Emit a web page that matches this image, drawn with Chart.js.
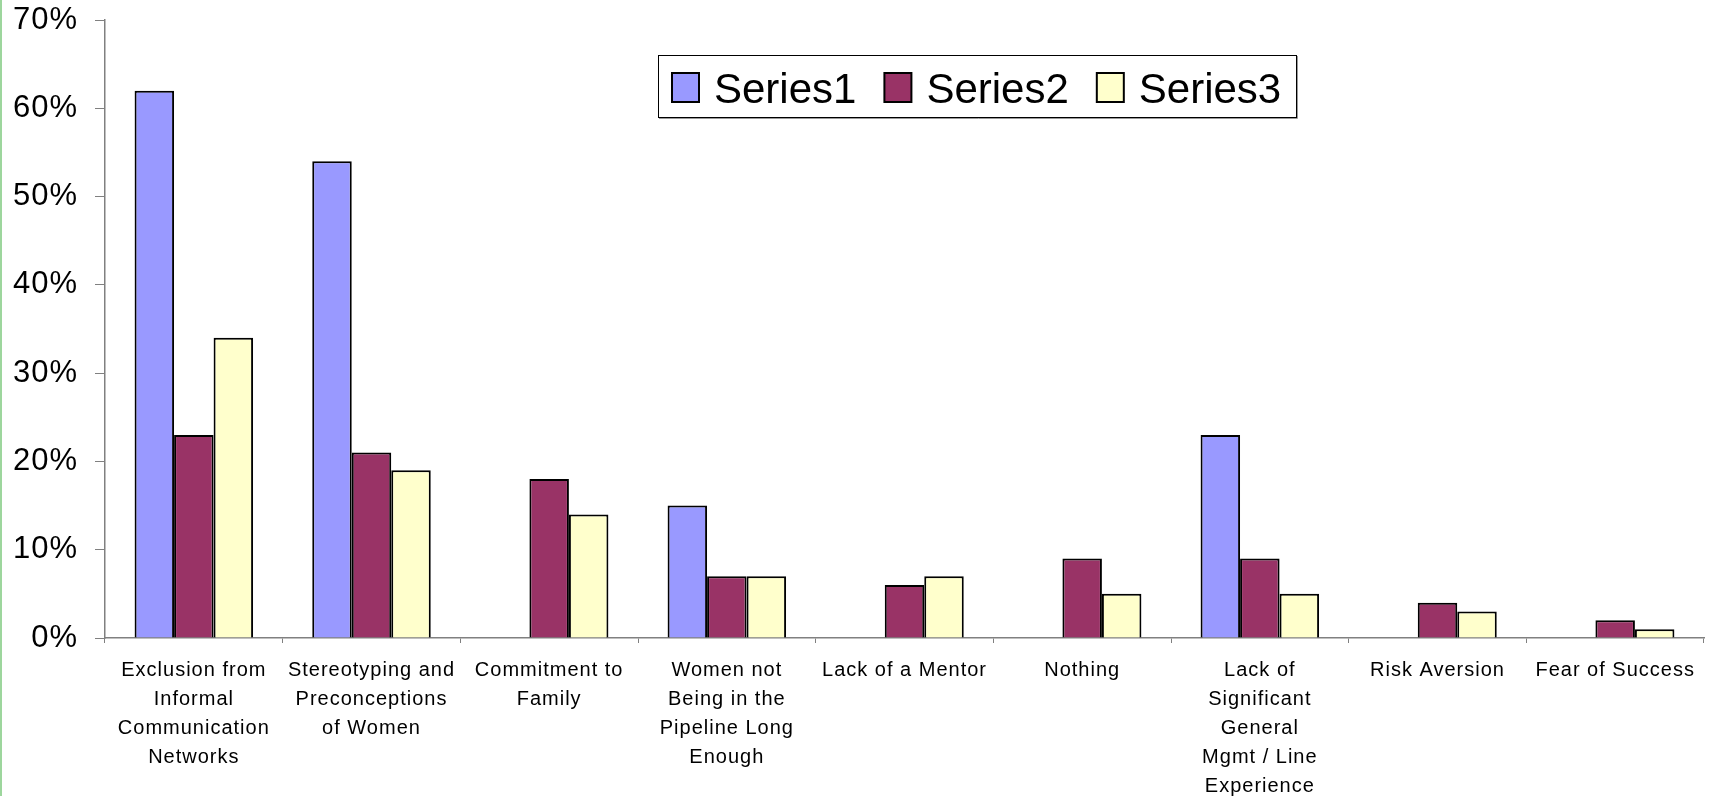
<!DOCTYPE html>
<html>
<head>
<meta charset="utf-8">
<script src="https://cdn.jsdelivr.net/npm/chart.js@4.4.0/dist/chart.umd.min.js"></script>
<style>
  html, body { margin: 0; padding: 0; background: #fff; overflow: hidden; }
  #wrap { position: relative; width: 1713px; height: 796px; }
  #edge { position: absolute; left: 0; top: 0; width: 2px; height: 796px; background: #9dd69d; }
</style>
</head>
<body>
<div id="wrap">
  <canvas id="chart" width="1713" height="796"></canvas>
  <div id="edge"></div>
</div>
<script>
// category labels, already split in lines like the original
const categories = [
  ['Exclusion from', 'Informal', 'Communication', 'Networks'],
  ['Stereotyping and', 'Preconceptions', 'of Women'],
  ['Commitment to', 'Family'],
  ['Women not', 'Being in the', 'Pipeline Long', 'Enough'],
  'Lack of a Mentor',
  'Nothing',
  ['Lack of', 'Significant', 'General', 'Mgmt / Line', 'Experience'],
  'Risk Aversion',
  'Fear of Success'
];

const series1 = [62, 54, 0, 15, 0, 0, 23, 0, 0];
const series2 = [23, 21, 18, 7, 6, 9, 9, 4, 2];
const series3 = [34, 19, 14, 7, 7, 5, 5, 3, 1];

const yTicks = [0, 10, 20, 30, 40, 50, 60, 70];

const FONT = '"Liberation Sans", Arial, sans-serif';
const AXIS = '#808080';

// the old spreadsheet renderer spaces its letters a bit
const spacing = {
  id: 'spacing',
  beforeDraw(chart) { chart.ctx.letterSpacing = '1px'; },
  afterDraw(chart) { chart.ctx.letterSpacing = '0px'; }
};

// legend drawn as a framed box inside the plot, like the spreadsheet original
const legendBox = {
  id: 'legendBox',
  afterDraw(chart) {
    const ctx = chart.ctx;
    ctx.save();
    ctx.letterSpacing = '0px';
    ctx.fillStyle = '#fff';
    ctx.fillRect(658, 55, 638, 62);
    ctx.strokeStyle = '#999';
    ctx.lineWidth = 1;
    ctx.beginPath();
    ctx.moveTo(1297.5, 56); ctx.lineTo(1297.5, 118.5); ctx.lineTo(659, 118.5);
    ctx.stroke();
    ctx.strokeStyle = '#000';
    ctx.strokeRect(658.5, 55.5, 638, 62);
    ctx.font = '42px ' + FONT;
    ctx.textBaseline = 'alphabetic';
    let x = 672;
    chart.data.datasets.forEach(ds => {
      ctx.fillStyle = ds.backgroundColor;
      ctx.fillRect(x, 73, 27, 29);
      ctx.lineWidth = 2;
      ctx.strokeStyle = '#000';
      ctx.strokeRect(x, 73, 27, 29);
      ctx.fillStyle = '#000';
      ctx.fillText(ds.label, x + 42, 103);
      x += 42 + ctx.measureText(ds.label).width + 28;
    });
    ctx.restore();
  }
};

const barStyle = { borderColor: '#000', borderWidth: 2, categoryPercentage: 0.667, barPercentage: 1.0 };

new Chart(document.getElementById('chart'), {
  type: 'bar',
  data: {
    labels: categories,
    datasets: [
      { label: 'Series1', data: series1, backgroundColor: '#9999FF', ...barStyle },
      { label: 'Series2', data: series2, backgroundColor: '#993366', ...barStyle },
      { label: 'Series3', data: series3, backgroundColor: '#FFFFCC', ...barStyle }
    ]
  },
  options: {
    responsive: false,
    devicePixelRatio: 1,
    animation: false,
    layout: { padding: { top: 20, right: 9, left: 0, bottom: 0 } },
    plugins: {
      legend: { display: false },
      tooltip: { enabled: false }
    },
    scales: {
      x: {
        offset: true,
        grid: { offset: true, drawOnChartArea: false, drawTicks: true, tickLength: 5, color: AXIS },
        border: { color: AXIS, width: 1.5 },
        ticks: {
          color: '#000',
          padding: 13,
          maxRotation: 0,
          autoSkip: false,
          font: { family: FONT, size: 20, lineHeight: 1.45 }
        },
        afterFit(scale) {
          scale.height = 158;
          scale.paddingLeft = 0;
          scale.paddingRight = 0;
        }
      },
      y: {
        min: 0,
        max: 70,
        afterBuildTicks(scale) { scale.ticks = yTicks.map(v => ({ value: v })); },
        grid: { drawOnChartArea: false, drawTicks: true, tickLength: 10, color: AXIS },
        border: { color: AXIS, width: 1.5 },
        ticks: {
          color: '#000',
          padding: 17,
          font: { family: FONT, size: 31 },
          callback: v => v + '%'
        },
        afterFit(scale) {
          scale.width = 105;
          scale.paddingTop = 0;
          scale.paddingBottom = 0;
        }
      }
    }
  },
  plugins: [spacing, legendBox]
});
</script>
</body>
</html>
